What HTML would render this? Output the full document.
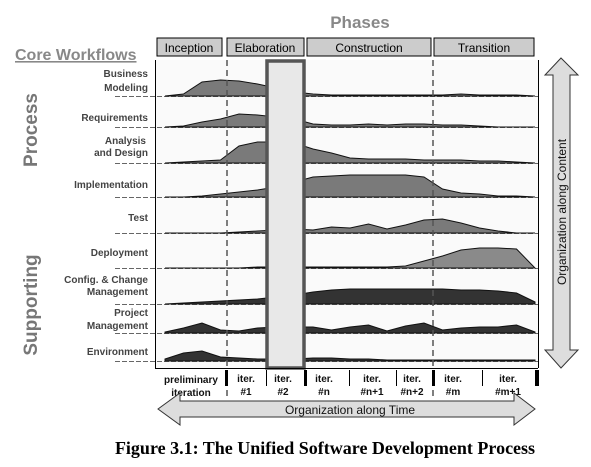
<!DOCTYPE html>
<html><head><meta charset="utf-8"><style>
body{margin:0;background:#fff;width:591px;height:467px;overflow:hidden}
svg{display:block}
</style></head><body>
<svg width="591" height="467" viewBox="0 0 591 467" font-family="Liberation Sans, sans-serif">
<text x="360" y="28" font-size="17" font-weight="bold" fill="#888" text-anchor="middle">Phases</text>
<text x="15" y="60" font-size="16" font-weight="bold" fill="#888" text-decoration="underline">Core Workflows</text>
<g>
<rect x="157" y="38" width="65" height="18" fill="#ccc" stroke="#000"/>
<text x="189" y="52" font-size="12" text-anchor="middle">Inception</text>
<rect x="227" y="38" width="77" height="18" fill="#ccc" stroke="#000"/>
<text x="265" y="52" font-size="12" text-anchor="middle">Elaboration</text>
<rect x="307" y="38" width="124" height="18" fill="#ccc" stroke="#000"/>
<text x="369" y="52" font-size="12" text-anchor="middle">Construction</text>
<rect x="434" y="38" width="100" height="18" fill="#ccc" stroke="#000"/>
<text x="484" y="52" font-size="12" text-anchor="middle">Transition</text>
</g>
<rect x="155" y="60" width="383" height="308" fill="#fafafa"/>
<g id="rows"></g>
<line x1="227" y1="60" x2="227" y2="400" stroke="#555" stroke-width="1.5" stroke-dasharray="6,4"/>
<line x1="433" y1="60" x2="433" y2="400" stroke="#555" stroke-width="1.5" stroke-dasharray="6,4"/>
<rect x="267" y="61" width="37" height="307" fill="#e8e8e8" stroke="#555" stroke-width="3.5"/>
<line x1="155.5" y1="60" x2="155.5" y2="368" stroke="#000"/>
<line x1="155" y1="368.5" x2="538" y2="368.5" stroke="#000"/>
<line x1="538.5" y1="60" x2="538.5" y2="368" stroke="#000"/>
<text transform="translate(37,130) rotate(-90)" font-size="19" font-weight="bold" fill="#777" text-anchor="middle">Process</text>
<text transform="translate(37,305) rotate(-90)" font-size="19" font-weight="bold" fill="#777" text-anchor="middle">Supporting</text>
<g font-size="10" font-weight="bold" fill="#444" text-anchor="end">
<text x="148" y="77">Business</text><text x="148" y="91">Modeling</text>
<text x="148" y="121">Requirements</text>
<text x="146" y="144">Analysis</text><text x="148" y="156">and Design</text>
<text x="148" y="188">Implementation</text>
<text x="148" y="221">Test</text>
<text x="148" y="256">Deployment</text>
<text x="148" y="283">Config. &amp; Change</text><text x="148" y="295">Management</text>
<text x="148" y="316">Project</text><text x="148" y="329">Management</text>
<text x="148" y="355">Environment</text>
</g>
<g font-size="10" font-weight="bold" fill="#111" text-anchor="middle">
<rect x="225" y="370" width="3" height="16" fill="#000"/>
<rect x="266" y="370" width="1" height="16" fill="#000"/>
<rect x="304" y="370" width="3" height="16" fill="#000"/>
<rect x="349" y="370" width="1" height="16" fill="#000"/>
<rect x="396" y="370" width="1" height="16" fill="#000"/>
<rect x="432" y="370" width="3" height="16" fill="#000"/>
<rect x="482" y="370" width="1" height="16" fill="#000"/>
<rect x="535" y="370" width="4" height="16" fill="#000"/>
<text x="191" y="383">preliminary</text><text x="191" y="396">iteration</text>
<text x="246" y="382">iter.</text><text x="246" y="395">#1</text>
<text x="283" y="382">iter.</text><text x="283" y="395">#2</text>
<text x="324" y="382">iter.</text><text x="324" y="395">#n</text>
<text x="372" y="382">iter.</text><text x="372" y="395">#n+1</text>
<text x="412" y="382">iter.</text><text x="412" y="395">#n+2</text>
<text x="453" y="382">iter.</text><text x="453" y="395">#m</text>
<text x="508" y="382">iter.</text><text x="508" y="395">#m+1</text>
</g>
<polygon points="158,409 180,393 180,401 514,401 514,393 535,409 514,425 514,417 180,417 180,425" fill="#ddd" stroke="#333"/>
<text x="350" y="414" font-size="12" text-anchor="middle" fill="#111">Organization along Time</text>
<polygon points="561,58 578,75 570,75 570,350 578,350 561,368 545,350 553,350 553,75 545,75" fill="#ddd" stroke="#333"/>
<text transform="translate(566,212) rotate(-90)" font-size="12" text-anchor="middle" fill="#111">Organization along Content</text>
<text x="325" y="454" font-family="Liberation Serif, serif" font-size="18" font-weight="bold" text-anchor="middle">Figure 3.1: The Unified Software Development Process</text>
</svg>
<script>
const timeSamples=[0,1,2,3,4,5,6,7,8,9,10,11,12,13,14,15,16,17,18,19,20];
const workflows=["business-modeling","requirements","analysis-design","implementation","test","deployment","config-change","project-management","environment"];
const businessModeling=[0,2,14,16,15,12,8,4,2,1,1,1,1,1,1,1,2,1,1,1,0];
const requirements=[0,1,5,8,13,12,10,8,3,2,2,3,2,3,3,2,2,1,0,0,0];
const analysisDesign=[0,1,2,3,17,21,21,20,14,10,5,4,4,4,3,3,3,2,2,1,0];
const implementation=[0,0,1,3,5,7,10,15,20,21,22,22,22,22,20,8,4,3,1,1,0];
const test=[0,0,0,0,1,2,3,4,3,6,5,9,4,8,13,14,10,5,2,0,0];
const deployment=[0,0,0,0,0,1,1,1,1,1,1,1,1,2,7,12,18,20,20,19,0];
const configChange=[0,1,2,3,4,5,7,9,12,14,15,15,15,15,15,15,14,14,13,11,2];
const projectManagement=[1,5,10,3,2,5,6,6,6,3,6,8,2,7,10,3,5,6,6,8,1];
const environment=[2,8,10,4,3,2,2,2,3,3,2,2,1,1,1,1,1,1,1,1,1];
const seriesList=[businessModeling,requirements,analysisDesign,implementation,test,deployment,configChange,projectManagement,environment];
const baselines=[96,127,163,197,233,268,304,333,361];
const fills=["#7a7a7a","#7a7a7a","#7a7a7a","#7a7a7a","#7a7a7a","#8a8a8a","#333","#333","#333"];
const NS="http://www.w3.org/2000/svg";
function xScale(t){return 165+t*18.5;}
function yScale(v,base){return base-v;}
const g=document.getElementById('rows');
seriesList.forEach((vals,i)=>{
  const base=baselines[i];
  const dl=document.createElementNS(NS,'line');
  dl.setAttribute('x1',115);dl.setAttribute('x2',538);dl.setAttribute('y1',base+0.5);dl.setAttribute('y2',base+0.5);
  dl.setAttribute('stroke','#666');dl.setAttribute('stroke-dasharray','5,2');
  
  
  g.appendChild(dl);
  let d='M'+xScale(timeSamples[0])+','+base;
  vals.forEach((v,j)=>{d+=' L'+xScale(timeSamples[j]).toFixed(1)+','+yScale(v,base);});
  d+=' L'+xScale(timeSamples[timeSamples.length-1])+','+base+' Z';
  const p=document.createElementNS(NS,'path');
  p.setAttribute('d',d);p.setAttribute('fill',fills[i]);p.setAttribute('stroke','#111');p.setAttribute('stroke-width','1');
  
  
  g.appendChild(p);
});
</script>
</body></html>
